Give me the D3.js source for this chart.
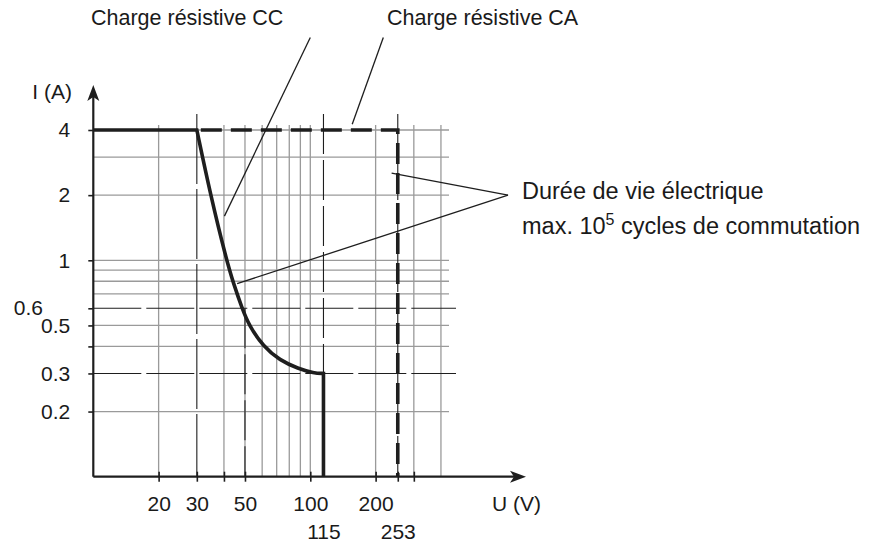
<!DOCTYPE html>
<html>
<head>
<meta charset="utf-8">
<script src="https://cdn.jsdelivr.net/npm/d3@7"></script>
<style>
  body { margin: 0; background: #fff; }
  svg { display: block; font-family: "Liberation Sans", Arial, Helvetica, sans-serif; }
  .tick text { font-size: 21px; fill: #1a1a1a; }
</style>
</head>
<body>
<svg width="870" height="545"></svg>
<script>
// Data (U in volts, I in amperes)
const flatPart  = [[10, 4], [30, 4]];
const ccCurve   = [[30, 4], [34.7, 2], [41.1, 1], [44.3, 0.78], [48.5, 0.6], [52.2, 0.5], [60.7, 0.4],
                   [72.3, 0.345], [87.9, 0.316], [103.9, 0.301], [115, 0.3]];
const ccDrop    = [[115, 0.3], [115, 0.1]];
const caLimit   = [[30, 4], [253, 4], [253, 0.1]];

const xGrid       = [20, 30, 40, 50, 60, 70, 80, 90, 100, 200, 300, 400];
const yGrid       = [4, 3, 2, 1, 0.9, 0.8, 0.7, 0.5, 0.4, 0.2];
const xMarked     = [30, 115, 253];
const yMarked     = [0.6, 0.3];
const xTickLabels = [20, 30, 50, 100, 200];
const xTickLabels2 = [115, 253];
const xTickMarks  = [20, 30, 40, 50, 100, 200, 253, 300];
const yTickLabels = [4, 2, 1, 0.5, 0.3, 0.2];
const yTickMarks  = [4, 2, 1, 0.6, 0.5, 0.4, 0.3, 0.2];

// Annotation anchors (data coords)
const ccLeader  = [[100, 10.7], [40.2, 1.6]];
const caLeader  = [[217, 10.7], [156, 4.25]];
const lifeTip   = [815, 2.0];
const lifeFrom  = [[237, 2.53], [46, 0.78]];

// Scales
const x = d3.scaleLog().domain([10, 1000]).range([93.3, 527.3]);
const y = d3.scaleLog().domain([0.1, 4]).range([476.7, 130]);

const svg = d3.select("svg");
const ink = "#1e1e1e";
const grey = "#9a9a9a";
const gridRight = 449;
const pt = d => [x(d[0]), y(d[1])];

// Grid
const grid = svg.append("g");
grid.selectAll(".hg").data(yGrid).enter().append("line")
  .attr("x1", x(10)).attr("x2", gridRight)
  .attr("y1", d => y(d)).attr("y2", d => y(d))
  .attr("stroke", grey).attr("stroke-width", 1.3);
grid.selectAll(".vg").data(xGrid.filter(v => !xMarked.includes(v))).enter().append("line")
  .attr("x1", d => x(d)).attr("x2", d => x(d))
  .attr("y1", 125).attr("y2", y(0.1))
  .attr("stroke", grey).attr("stroke-width", 1.3);
// 50 V marker below 0.6 A
grid.append("line")
  .attr("x1", x(50)).attr("x2", x(50)).attr("y1", y(0.6)).attr("y2", y(0.1))
  .attr("stroke", ink).attr("stroke-width", 1.1).attr("stroke-dasharray", "40,6");
grid.selectAll(".hm").data(yMarked).enter().append("line")
  .attr("x1", x(10)).attr("x2", 456)
  .attr("y1", d => y(d)).attr("y2", d => y(d))
  .attr("stroke", ink).attr("stroke-width", 1.1)
  .attr("stroke-dasharray", "48,5");
grid.selectAll(".vm").data(xMarked).enter().append("line")
  .attr("x1", d => x(d)).attr("x2", d => x(d))
  .attr("y1", 114).attr("y2", y(0.1))
  .attr("stroke", ink).attr("stroke-width", 1.1)
  .attr("stroke-dasharray", d => d === 30 ? "70,5" : "40,6");

// Axes tick marks
svg.append("g")
  .attr("transform", `translate(${x(10)},0)`)
  .call(d3.axisLeft(y).tickValues(yTickMarks).tickSize(5).tickFormat(""))
  .call(g => g.select(".domain").remove())
  .call(g => g.selectAll("line").attr("stroke", ink).attr("stroke-width", 1.6));
svg.append("g")
  .attr("transform", `translate(0,${y(0.1)})`)
  .call(d3.axisBottom(x).tickValues(xTickMarks).tickSize(5).tickFormat(""))
  .call(g => g.select(".domain").remove())
  .call(g => g.selectAll("line").attr("stroke", ink).attr("stroke-width", 1.6).attr("y1", -5));

// Tick labels
svg.append("g")
  .attr("transform", `translate(${x(10)},0)`)
  .call(d3.axisLeft(y).tickValues(yTickLabels).tickSize(0).tickPadding(23).tickFormat(d => d))
  .call(g => g.select(".domain").remove());
svg.append("text")
  .attr("x", 43).attr("y", y(0.6)).attr("dy", "0.32em")
  .attr("text-anchor", "end").attr("font-size", 21).attr("fill", "#1a1a1a")
  .text("0.6");
svg.append("g")
  .attr("transform", `translate(0,${y(0.1)})`)
  .call(d3.axisBottom(x).tickValues(xTickLabels).tickSize(0).tickPadding(19).tickFormat(d => d))
  .call(g => g.select(".domain").remove());
svg.append("g")
  .attr("transform", `translate(0,${y(0.1)})`)
  .call(d3.axisBottom(x).tickValues(xTickLabels2).tickSize(0).tickPadding(47).tickFormat(d => d))
  .call(g => g.select(".domain").remove());

// Axis lines with arrows
svg.append("line")
  .attr("x1", x(10)).attr("x2", x(10)).attr("y1", y(0.1)).attr("y2", 96)
  .attr("stroke", ink).attr("stroke-width", 2.2);
svg.append("path")
  .attr("d", `M${x(10)},85 L${x(10) - 6},101 L${x(10)},97 L${x(10) + 6},101 Z`)
  .attr("fill", ink);
svg.append("line")
  .attr("x1", x(10)).attr("x2", 515).attr("y1", y(0.1)).attr("y2", y(0.1))
  .attr("stroke", ink).attr("stroke-width", 2.2);
svg.append("path")
  .attr("d", `M526,${y(0.1)} L510,${y(0.1) - 6} L514,${y(0.1)} L510,${y(0.1) + 6} Z`)
  .attr("fill", ink);

svg.append("text").attr("x", 72).attr("y", 99).attr("text-anchor", "end")
  .attr("font-size", 21).attr("fill", "#1a1a1a").text("I (A)");
svg.append("text").attr("x", 492).attr("y", 511)
  .attr("font-size", 21).attr("fill", "#1a1a1a").text("U (V)");

// Curves
const lin = d3.line().x(d => x(d[0])).y(d => y(d[1]));
const smooth = d3.line().x(d => x(d[0])).y(d => y(d[1])).curve(d3.curveBasis);

svg.append("path").attr("d", lin(caLimit))
  .attr("fill", "none").attr("stroke", ink).attr("stroke-width", 3.6)
  .attr("stroke-dasharray", "21,9").attr("stroke-dashoffset", -4);
svg.append("path").attr("d", lin(flatPart) + smooth(ccCurve).replace(/^M/, "L") + lin(ccDrop).replace(/^M/, "L"))
  .attr("fill", "none").attr("stroke", ink).attr("stroke-width", 3.6)
  .attr("stroke-linejoin", "miter");

// Annotations
const leader = (a, b) => svg.append("line")
  .attr("x1", a[0]).attr("y1", a[1]).attr("x2", b[0]).attr("y2", b[1])
  .attr("stroke", ink).attr("stroke-width", 1.3);
leader(pt(ccLeader[0]), pt(ccLeader[1]));
leader(pt(caLeader[0]), pt(caLeader[1]));
lifeFrom.forEach(d => leader(pt(d), pt(lifeTip)));

svg.append("text").attr("x", 91).attr("y", 25)
  .attr("font-size", 21.5).attr("fill", "#1a1a1a").text("Charge résistive CC");
svg.append("text").attr("x", 387).attr("y", 25)
  .attr("font-size", 21.5).attr("fill", "#1a1a1a").text("Charge résistive CA");

const life = svg.append("text").attr("x", 522).attr("y", 199)
  .attr("font-size", 23.5).attr("fill", "#1a1a1a");
life.append("tspan").text("Durée de vie électrique");
const l2 = svg.append("text").attr("x", 522).attr("y", 234)
  .attr("font-size", 23.5).attr("fill", "#1a1a1a");
l2.append("tspan").text("max. 10");
l2.append("tspan").attr("font-size", 16).attr("dy", -9).text("5");
l2.append("tspan").attr("dy", 9).text(" cycles de commutation");
</script>
</body>
</html>
